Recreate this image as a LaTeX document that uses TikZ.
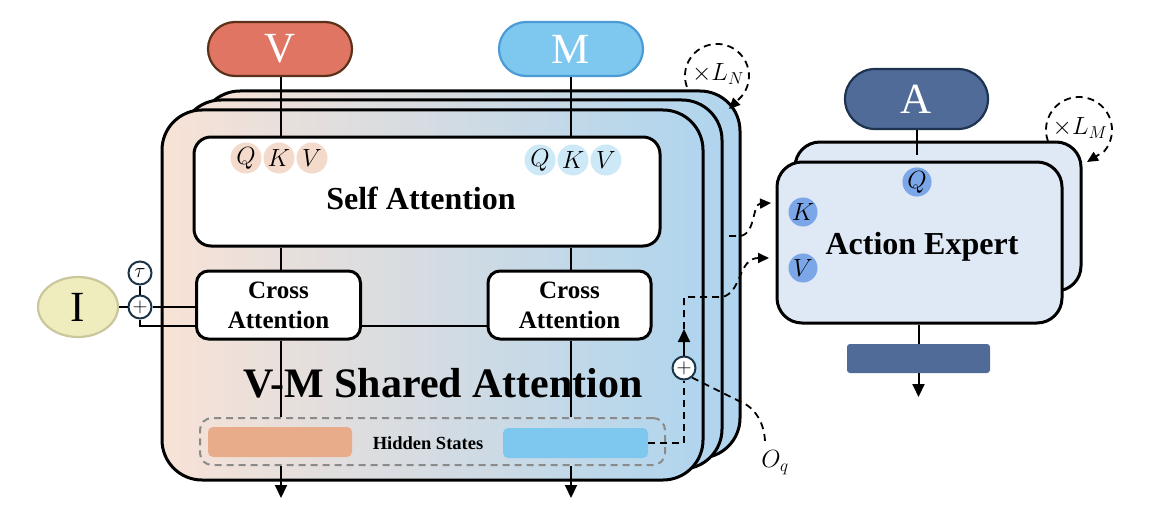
\documentclass[tikz,border=0pt]{standalone}
\usepackage{fontspec}
\setmainfont{Liberation Serif}
\usetikzlibrary{arrows.meta,shapes.geometric,calc}
\definecolor{cpeach}{HTML}{F8E2D6}
\definecolor{cmid}{HTML}{E3DEE6}
\definecolor{cblue}{HTML}{B0D5EE}
\definecolor{cred}{HTML}{E07563}
\definecolor{cbrown}{HTML}{5B3119}
\definecolor{cmc}{HTML}{7EC8EF}
\definecolor{cmcd}{HTML}{4A9BD6}
\definecolor{cqkvL}{HTML}{F4DACB}
\definecolor{cqkvR}{HTML}{CDE8F6}
\definecolor{cyel}{HTML}{EFECBE}
\definecolor{cyeld}{HTML}{CAC79C}
\definecolor{cnavy}{HTML}{1C3549}
\definecolor{cgray}{HTML}{8A8A8A}
\definecolor{cbarP}{HTML}{E8AC8A}
\definecolor{cbarB}{HTML}{7EC8EF}
\definecolor{cae}{HTML}{DFE8F5}
\definecolor{cA}{HTML}{506B98}
\definecolor{cAd}{HTML}{1E3350}
\definecolor{caeq}{HTML}{7BA6E7}
\begin{document}
\begin{tikzpicture}[x=1pt,y=-1pt,
  card/.style={draw=black, line width=3pt, rounded corners=40pt, left color=cpeach, middle color=cmid, right color=cblue, inner sep=0pt},
  aecard/.style={draw=black, line width=3pt, rounded corners=25pt, fill=cae, inner sep=0pt},
  wbox/.style={draw=black, line width=3pt, fill=white, inner sep=0pt},
  capsule/.style={rounded corners=27pt, minimum width=144pt, minimum height=54pt, line width=2.2pt, text=white, font=\fontsize{43}{48}\selectfont, inner sep=0pt},
  conn/.style={line width=2pt, draw=black},
  dconn/.style={line width=1.8pt, draw=black, dash pattern=on 7pt off 5pt},
  endarrow/.style={-{Triangle[length=13pt,width=12pt]}},
  smallarrow/.style={-{Triangle[length=11pt,width=10pt]}},
  qkv/.style={circle, inner sep=0pt, minimum size=31pt, font=\fontsize{25}{28}\selectfont},
  pluscirc/.style={circle, draw=cnavy, line width=2pt, fill=white, minimum size=23pt, inner sep=0pt, font=\fontsize{20}{22}\selectfont},
  boldtxt/.style={font=\fontsize{32}{38}\selectfont\bfseries, inner sep=0pt}
]
\useasboundingbox (0,0) rectangle (1150,532);
\fill[white] (0,0) rectangle (1150,532);

% stacked cards
\node[card, minimum width=540pt, minimum height=367pt] (back) at (470,274.5) {};
\node[card, minimum width=541pt, minimum height=369pt] (mid) at (451.5,284.5) {};
\node[card, minimum width=541pt, minimum height=370pt] (front) at (432.5,295) {};

% capsules
\node[capsule, fill=cred, draw=cbrown] (Vc) at (280,49) {V};
\node[capsule, fill=cmc, draw=cmcd] (Mc) at (571,49) {M};

% self attention
\node[wbox, rounded corners=17pt, minimum width=466pt, minimum height=109pt] (SA) at (427,191.5) {};
\node[boldtxt] (SAt) at (421,198) {Self Attention};
\node[qkv, fill=cqkvL] (q1) at (246,158) {$Q$};
\node[qkv, fill=cqkvL] (k1) at (279,158) {$K$};
\node[qkv, fill=cqkvL] (v1) at (312,158) {$V$};
\node[qkv, fill=cqkvR] (q2) at (540,160) {$Q$};
\node[qkv, fill=cqkvR] (k2) at (573,160) {$K$};
\node[qkv, fill=cqkvR] (v2) at (606,160) {$V$};

% cross attention
\node[wbox, rounded corners=12pt, minimum width=164pt, minimum height=68pt, align=center, font=\fontsize{25}{30}\selectfont\bfseries] (CA1) at (278.5,305) {Cross\\Attention};
\node[wbox, rounded corners=12pt, minimum width=163pt, minimum height=68pt, align=center, font=\fontsize{25}{30}\selectfont\bfseries] (CA2) at (569.5,305) {Cross\\Attention};

\node[font=\fontsize{42}{48}\selectfont\bfseries, inner sep=0pt] (title) at (443,383) {V-M Shared Attention};

% hidden states
\node[draw=cgray, dash pattern=on 7pt off 5pt, line width=2pt, rounded corners=12pt, minimum width=465pt, minimum height=47pt, inner sep=0pt] (HS) at (432.5,441.5) {};
\node[fill=cbarP, rounded corners=5pt, minimum width=144pt, minimum height=30pt, inner sep=0pt] (hL) at (280,442) {};
\node[fill=cbarB, rounded corners=5pt, minimum width=145pt, minimum height=30pt, inner sep=0pt] (hR) at (575.5,443) {};
\node[font=\fontsize{18.5}{22}\selectfont\bfseries, inner sep=0pt] (hst) at (428,443) {Hidden States};

% vertical connectors
\coordinate (outL) at (281,498);
\coordinate (outR) at (571,498);
\draw[conn] (Vc.south -| outL) -- (SA.north -| outL);
\draw[conn] (Mc.south -| outR) -- (SA.north -| outR);
\draw[conn] (SA.south -| outL) -- (CA1.north -| outL);
\draw[conn] (SA.south -| outR) -- (CA2.north -| outR);
\draw[conn] (CA1.south -| outL) -- (HS.north -| outL);
\draw[conn] (CA2.south -| outR) -- (HS.north -| outR);
\draw[conn, endarrow] (HS.south -| outL) -- (outL);
\draw[conn, endarrow] (HS.south -| outR) -- (outR);
\draw[conn] ($(CA1.east)+(0,21)$) -- ($(CA2.west)+(0,21)$);

% input I
\node[ellipse, fill=cyel, draw=cyeld, line width=2.2pt, minimum width=80pt, minimum height=60pt, inner sep=0pt, font=\fontsize{43}{48}\selectfont] (I) at (78,307) {I};
\node[pluscirc] (plus1) at (140,307) {$+$};
\node[pluscirc] (tau) at (140,273) {$\tau$};
\draw[conn] (I) -- (plus1);
\draw[conn] (tau) -- (plus1);
\draw[conn] (plus1.east) -- (CA1.west |- plus1.east);
\draw[conn] (plus1.south) |- ($(CA1.west)+(0,21)$);

% right dashed paths
\node[pluscirc] (plus2) at (684,368) {$+$};
\coordinate (ah) at (684,329);
\coordinate (Vin) at (769,258);
\coordinate (Kst) at (729,236);
\coordinate (Kin) at (771,203);
\coordinate (Oend) at (765,443);
\draw[dconn] (hR.east) -| (plus2.south);
\draw[conn, endarrow] (plus2.north) -- (ah);
\draw[dconn, smallarrow] (ah) -- (684,297) -- (722,297) .. controls (742,293) and (738,258) .. (Vin);
\draw[dconn, smallarrow] (Kst) -- (740,236) .. controls (756,234) and (752,204) .. (Kin);
\draw[dconn] (plus2.-50) -- (741,402) .. controls (756,408) and (765,425) .. (Oend);
\node[font=\fontsize{25}{28}\selectfont, inner sep=0pt] (Oq) at (775,463) {$O_q$};

% x L_N
\node[font=\fontsize{24}{26}\selectfont, inner sep=0pt] (LN) at (718,74) {$\times L_N$};
\coordinate (LNtip) at (729,109);
\draw[dconn, smallarrow] (686.9,86.9) arc[start angle=-200, end angle=40, radius=32] -- (LNtip);

% action expert
\node[aecard, minimum width=286pt, minimum height=149pt] (aeback) at (938,216.5) {};
\node[aecard, minimum width=285pt, minimum height=161pt] (ae) at (919.5,242.5) {};
\node[capsule, fill=cA, draw=cAd, rounded corners=30pt, minimum width=143pt, minimum height=60pt] (Ac) at (916.5,99) {A};
\coordinate (Aend) at (916.5,155);
\draw[conn] (Ac.south) -- (Aend);
\node[qkv, fill=caeq, minimum size=29pt] (qa) at (917,182) {$Q$};
\node[qkv, fill=caeq, minimum size=29pt] (ka) at (803,212) {$K$};
\node[qkv, fill=caeq, minimum size=29pt] (va) at (803,268) {$V$};
\node[boldtxt] (aet) at (922,247) {Action Expert};
\node[fill=cA, rounded corners=3pt, minimum width=143pt, minimum height=29pt, inner sep=0pt] (obar) at (918.5,358.5) {};
\coordinate (outA) at (918.5,397);
\draw[conn] (ae.south -| obar.north) -- (obar.north);
\draw[conn, endarrow] (obar.south) -- (outA);

% x L_M
\node[font=\fontsize{24}{26}\selectfont, inner sep=0pt] (LM) at (1080,128) {$\times L_M$};
\coordinate (LMtip) at (1087,162);
\draw[dconn, smallarrow] (1048,141.3) arc[start angle=-200, end angle=40, radius=33] -- (LMtip);
\end{tikzpicture}
\end{document}
